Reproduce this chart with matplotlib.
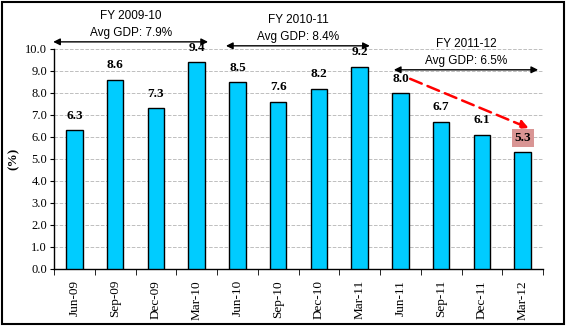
import matplotlib
matplotlib.use('Agg')
import matplotlib.pyplot as plt
from matplotlib.patches import Rectangle

quarters = ['Jun-09', 'Sep-09', 'Dec-09', 'Mar-10', 'Jun-10', 'Sep-10',
            'Dec-10', 'Mar-11', 'Jun-11', 'Sep-11', 'Dec-11', 'Mar-12']
gdp = [6.3, 8.6, 7.3, 9.4, 8.5, 7.6, 8.2, 9.2, 8.0, 6.7, 6.1, 5.3]

fy_labels = ['FY 2009-10\nAvg GDP: 7.9%', 'FY 2010-11\nAvg GDP: 8.4%',
             'FY 2011-12\nAvg GDP: 6.5%']
fy_spans = [(-0.52, 3.28), (3.72, 7.25), (7.84, 11.38)]
fy_arrow_y = [10.32, 10.14, 9.05]

serif = 'Liberation Serif'
sans = 'Liberation Sans'

fig = plt.figure(figsize=(5.66, 3.26), dpi=100)
ax = fig.add_axes([0.0954, 0.175, 0.864, 0.675])

x = list(range(len(quarters)))
ax.bar(x, gdp, width=0.4, color='#00CCFF', edgecolor='black', linewidth=1, zorder=3)

# value labels
for i, v in enumerate(gdp):
    box = None
    if i == len(gdp) - 1:
        box = dict(boxstyle='square,pad=0.2', facecolor='#D99594', edgecolor='none')
    ax.annotate(f'{v:.1f}', xy=(i, v), xytext=(0, 6), textcoords='offset points',
                ha='center', va='bottom', fontsize=9.5, fontweight='semibold',
                family=serif, annotation_clip=False, bbox=box, zorder=5)

# fiscal year spans
for lbl, (x0, x1), ya in zip(fy_labels, fy_spans, fy_arrow_y):
    ax.annotate('', xy=(x0, ya), xytext=(x1, ya), annotation_clip=False,
                arrowprops=dict(arrowstyle='<|-|>', color='black', lw=1,
                                mutation_scale=10, shrinkA=0, shrinkB=0))
    ax.text((x0 + x1) / 2, ya + 0.14, lbl, ha='center', va='bottom',
            fontsize=8.5, family=sans, linespacing=1.55, clip_on=False)

# red dashed trend arrow
ax.annotate('', xy=(11.15, 6.4), xytext=(8.24, 8.64), annotation_clip=False,
            arrowprops=dict(arrowstyle='-|>', color='#FF0000', lw=1.8,
                            linestyle=(0, (5, 2.5)), mutation_scale=12,
                            shrinkA=0, shrinkB=0))

ax.set_xlim(-0.5, 11.5)
ax.set_ylim(0, 10)
ax.set_yticks([i * 1.0 for i in range(11)])
ax.set_yticklabels([f'{i:.1f}' for i in range(11)], family=serif, fontsize=9)
ax.set_xticks(x)
ax.set_xticklabels(quarters, rotation=90, family=serif, fontsize=9.5)
ax.set_xticks([i - 0.5 for i in range(len(quarters) + 1)], minor=True)
ax.tick_params(axis='x', which='major', length=0, pad=8)
ax.tick_params(axis='x', which='minor', length=4, direction='out')
ax.tick_params(axis='y', length=3, direction='out', pad=2)

ax.grid(axis='y', color='#BFBFBF', linestyle='--', linewidth=0.7, zorder=0)
ax.set_axisbelow(True)
for s in ['top', 'right']:
    ax.spines[s].set_visible(False)
ax.spines['left'].set_linewidth(1)
ax.spines['bottom'].set_linewidth(1)

ax.set_ylabel('(%)', family=serif, fontsize=9.5, fontweight='bold', labelpad=4)

fig.patches.append(Rectangle((0.004, 0.006), 0.992, 0.988, transform=fig.transFigure,
                             fill=False, edgecolor='black', linewidth=1.5))

fig.savefig('out.png', dpi=100)
